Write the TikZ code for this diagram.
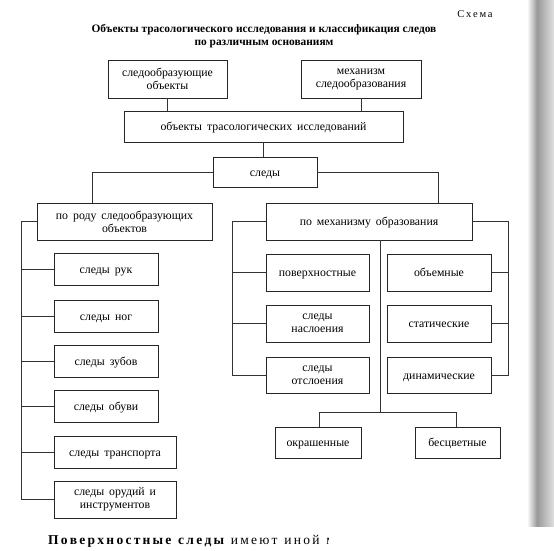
\documentclass[tikz,border=0pt]{standalone}
\usepackage{fontspec}
\setmainfont{Liberation Serif}
\usetikzlibrary{calc}
\newcommand{\widesp}{\spaceskip=5pt plus 1pt\relax}
\tikzset{
  bx/.style={draw=black!85, line width=0.9pt, fill=white, align=center, inner sep=1pt,
    font=\fontsize{11.8}{13}\selectfont, execute at begin node=\widesp},
  bxa/.style={bx, text height=2.3ex, text depth=0.5ex},
  ln/.style={draw=black!80, line width=0.7pt},
}
\begin{document}
\begin{tikzpicture}[x=1pt,y=-1pt]
\useasboundingbox (0,0) rectangle (554,550);
\shade[left color=white, right color=black!40] (527,0) rectangle (537,526);
\shade[left color=black!40, right color=black!12] (537,0) rectangle (554,526);
% header
\node[font=\fontsize{10.5}{12}\selectfont] (schema) at (475,14) {С\,х\,е\,м\,а};
\node[font=\bfseries\fontsize{11.4}{12.5}\selectfont, align=center] (title) at (264,36)
  {Объекты трасологического исследования и классификация следов\\по различным основаниям};
% boxes
\node[bx, minimum width=119, minimum height=38] (so) at (167.5,79) {следообразующие\\объекты};
\node[bx, minimum width=120, minimum height=38] (mech) at (361,79) {механизм\\следообразования};
\node[bxa, minimum width=279, minimum height=31] (obj) at (263.5,126.5) {объекты трасологических исследований};
\node[bxa, minimum width=104, minimum height=30] (sledy) at (265,172) {следы};
\node[bx, minimum width=175, minimum height=37] (rod) at (124.5,221.5) {по роду следообразующих\\объектов};
\node[bxa, minimum width=206, minimum height=37] (mex) at (369,221.5) {по механизму образования};
% left column
\node[bxa, minimum width=104, minimum height=32] (ruk) at (106,269) {следы рук};
\node[bxa, minimum width=104, minimum height=32] (nog) at (106,316) {следы ног};
\node[bxa, minimum width=104, minimum height=32] (zub) at (106,361) {следы зубов};
\node[bxa, minimum width=104, minimum height=32] (obuv) at (106,406) {следы обуви};
\node[bxa, minimum width=122, minimum height=32] (trans) at (115,452) {следы транспорта};
\node[bx, minimum width=122, minimum height=37] (orud) at (115,499.5) {следы орудий и\\инструментов};
% right part
\node[bxa, minimum width=103, minimum height=37] (pov) at (317.5,272.5) {поверхностные};
\node[bx, minimum width=103, minimum height=37] (nasl) at (317.5,323.5) {следы\\наслоения};
\node[bx, minimum width=103, minimum height=36] (otsl) at (317.5,375) {следы\\отслоения};
\node[bxa, minimum width=104, minimum height=37] (obem) at (439,272.5) {объемные};
\node[bxa, minimum width=104, minimum height=37] (stat) at (439,323.5) {статические};
\node[bxa, minimum width=104, minimum height=36] (din) at (439,375) {динамические};
\node[bxa, minimum width=86, minimum height=31] (okr) at (318,442.5) {окрашенные};
\node[bxa, minimum width=85, minimum height=31] (besc) at (457.5,442.5) {бесцветные};
% coordinates
\coordinate (c1) at (92,203);
\coordinate (c2) at (438,203);
\coordinate (L) at (21,221);
\coordinate (ML) at (232,221);
\coordinate (MR) at (508,221);
\coordinate (MB) at (380,412);
% connectors
\draw[ln] (so.south) -- (so.south |- obj.north);
\draw[ln] (mech.south) -- (mech.south |- obj.north);
\draw[ln] (obj.south) -- (obj.south |- sledy.north);
\draw[ln] (sledy.west) -| (c1);
\draw[ln] (sledy.east) -| (c2);
\draw[ln] (rod.west |- L) -- (L) |- (orud.west);
\foreach \n in {ruk,nog,zub,obuv,trans} \draw[ln] (\n.west) -- (\n.west -| L);
\draw[ln] (mex.west |- ML) -- (ML) |- (otsl.west);
\foreach \n in {pov,nasl} \draw[ln] (\n.west) -- (\n.west -| ML);
\draw[ln] (mex.east |- MR) -- (MR) |- (din.east);
\foreach \n in {obem,stat} \draw[ln] (\n.east) -- (\n.east -| MR);
\draw[ln] (mex.south -| MB) -- (MB);
\draw[ln] (okr.north -| 319,0) |- (MB);
\draw[ln] (besc.north -| 456,0) |- (MB);
% bottom text (cut off)
\begin{scope}
\clip (0,520) rectangle (328,550);
\node[anchor=base west, font=\fontsize{13.5}{15}\selectfont, inner sep=0] (bottom) at (48,544)
  {\textbf{П\,о\,в\,е\,р\,х\,н\,о\,с\,т\,н\,ы\,е\ \ с\,л\,е\,д\,ы}\ \ и\,м\,е\,ю\,т\ \ и\,н\,о\,й\ \ м\,е\,х\,а\,н\,и\,з\,м};
\end{scope}
\end{tikzpicture}
\end{document}
